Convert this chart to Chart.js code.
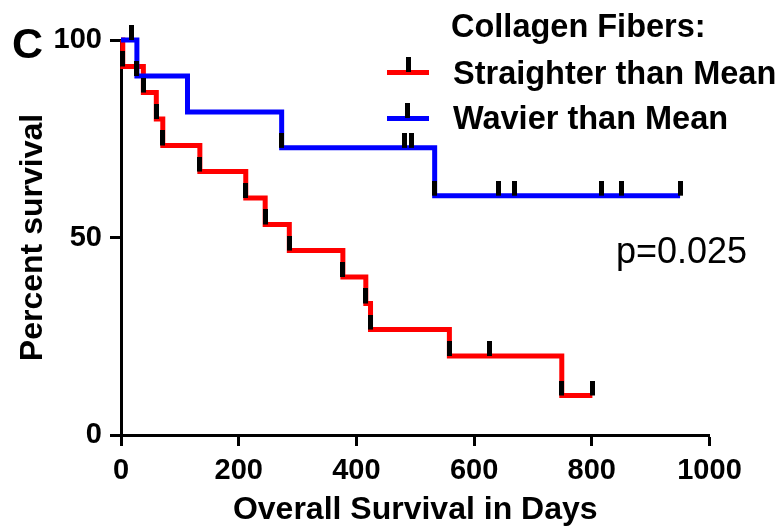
<!DOCTYPE html>
<html>
<head>
<meta charset="utf-8">
<script src="https://cdn.jsdelivr.net/npm/chart.js@4/dist/chart.umd.min.js"></script>
<style>
    body { margin: 0; background: #fff; }
    #wrap { width: 783px; height: 529px; }
</style>
</head>
<body>
<div id="wrap"><canvas id="survivalChart" width="783" height="529"></canvas></div>
<script>

// Straighter than Mean (red)
const redTimes = [0, 3, 38, 60, 71, 134, 212, 245, 286, 377, 416, 424, 558, 749, 801];
const redSurvival = [100, 93.3, 86.7, 80, 73.3, 66.7, 60, 53.3, 46.7, 40, 33.3, 26.7, 20, 10, 10];
const redTickTimes = [3, 38, 60, 71, 134, 212, 245, 286, 377, 416, 424, 558, 627, 749, 801];
const redTickSurvival = [93.3, 86.7, 80, 73.3, 66.7, 60, 53.3, 46.7, 40, 33.3, 26.7, 20, 20, 10, 10];

// Wavier than Mean (blue)
const blueTimes = [0, 27, 113, 273, 533, 950];
const blueSurvival = [100, 90.9, 81.8, 72.7, 60.6, 60.6];
const blueTickTimes = [18, 27, 273, 481, 494, 533, 641, 668, 816, 851, 950];
const blueTickSurvival = [100, 90.9, 72.7, 72.7, 72.7, 60.6, 60.6, 60.6, 60.6, 60.6, 60.6];

const xTicks = [0, 200, 400, 600, 800, 1000];
const yTicks = [0, 50, 100];

const seriesLabels = ["Straighter than Mean", "Wavier than Mean"];
const legendTitle = "Collagen Fibers:";
const pValueText = "p=0.025";
const panelLetter = "C";

const FONT = "'Liberation Sans', Arial, sans-serif";

function toPoints(xs, ys) {
    return xs.map((x, i) => ({ x: x, y: ys[i] }));
}

// small black bar, sits on top of the point
function makeTickMark() {
    const c = document.createElement("canvas");
    c.width = 5;
    c.height = 30;
    const g = c.getContext("2d");
    g.fillStyle = "#000";
    g.fillRect(0, 0, 5, 15);
    return c;
}

const tickMark = makeTickMark();

const extrasPlugin = {
    id: "extras",
    afterDraw(chart) {
        const ctx = chart.ctx;
        ctx.save();
        ctx.fillStyle = "#000";
        ctx.textBaseline = "alphabetic";
        ctx.textAlign = "left";

        ctx.font = "bold 43px " + FONT;
        ctx.fillText(panelLetter, 12, 58);

        ctx.font = "bold 32.5px " + FONT;
        ctx.fillText(legendTitle, 451, 37);
        ctx.fillText(seriesLabels[0], 453, 84);
        ctx.fillText(seriesLabels[1], 453, 129);

        // legend swatches
        ctx.fillStyle = "#ff0000";
        ctx.fillRect(387, 70, 42, 5);
        ctx.fillStyle = "#0000ff";
        ctx.fillRect(387, 116, 42, 5);
        ctx.fillStyle = "#000";
        ctx.fillRect(406, 57, 5, 15);
        ctx.fillRect(405, 103, 5, 15);

        ctx.font = "36px " + FONT;
        ctx.fillText(pValueText, 616, 263);
        ctx.restore();
    }
};

const ctx = document.getElementById("survivalChart");

new Chart(ctx, {
    type: "line",
    data: {
        datasets: [
            {
                type: "scatter",
                data: toPoints(redTickTimes, redTickSurvival),
                pointStyle: tickMark,
                pointRadius: 5,
                clip: false,
                order: 0
            },
            {
                type: "scatter",
                data: toPoints(blueTickTimes, blueTickSurvival),
                pointStyle: tickMark,
                pointRadius: 5,
                clip: false,
                order: 0
            },
            {
                label: seriesLabels[1],
                data: toPoints(blueTimes, blueSurvival),
                borderColor: "#0000ff",
                borderWidth: 5,
                stepped: "before",
                pointRadius: 0,
                fill: false,
                clip: false,
                order: 1
            },
            {
                label: seriesLabels[0],
                data: toPoints(redTimes, redSurvival),
                borderColor: "#ff0000",
                borderWidth: 5,
                stepped: "before",
                pointRadius: 0,
                fill: false,
                clip: false,
                order: 2
            }
        ]
    },
    options: {
        responsive: false,
        animation: false,
        layout: {
            padding: { top: 40, right: 73.5, bottom: 0, left: 0 }
        },
        plugins: {
            legend: { display: false },
            tooltip: { enabled: false }
        },
        scales: {
            x: {
                type: "linear",
                min: 0,
                max: 1000,
                afterFit(scale) { scale.height = 94; },
                afterBuildTicks(scale) {
                    scale.ticks = xTicks.map(v => ({ value: v }));
                },
                grid: {
                    drawOnChartArea: false,
                    drawTicks: true,
                    tickLength: 11,
                    tickWidth: 3,
                    tickColor: "#000"
                },
                border: { display: true, color: "#000", width: 3 },
                ticks: {
                    color: "#000",
                    padding: 8,
                    maxRotation: 0,
                    callback: v => String(v),
                    font: { family: FONT, size: 29, weight: "bold" }
                },
                title: {
                    display: true,
                    text: "Overall Survival in Days",
                    color: "#000",
                    padding: { top: 0, bottom: 0 },
                    font: { family: FONT, size: 32, weight: "bold" }
                }
            },
            y: {
                type: "linear",
                min: 0,
                max: 100,
                afterFit(scale) { scale.width = 121; },
                afterBuildTicks(scale) {
                    scale.ticks = yTicks.map(v => ({ value: v }));
                },
                grid: {
                    drawOnChartArea: false,
                    drawTicks: true,
                    tickLength: 11,
                    tickWidth: 3,
                    tickColor: "#000"
                },
                border: { display: true, color: "#000", width: 3 },
                ticks: {
                    color: "#000",
                    padding: 8,
                    font: { family: FONT, size: 29, weight: "bold" }
                },
                title: {
                    display: true,
                    text: "Percent survival",
                    color: "#000",
                    padding: { top: 14, bottom: 0 },
                    font: { family: FONT, size: 32, weight: "bold" }
                }
            }
        }
    },
    plugins: [extrasPlugin]
});

</script>
</body>
</html>
